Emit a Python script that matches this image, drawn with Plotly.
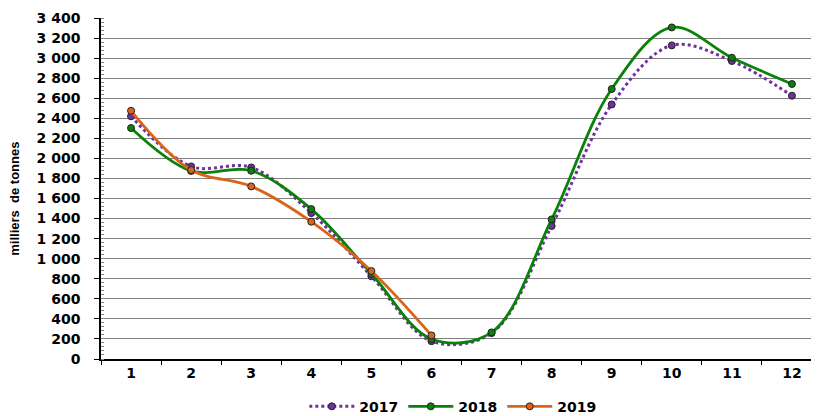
import plotly.graph_objects as go

months = ["1", "2", "3", "4", "5", "6", "7", "8", "9", "10", "11", "12"]
v2017 = [2420, 1920, 1910, 1455, 825, 178, 258, 1326, 2538, 3127, 2971, 2625]
v2018 = [2303, 1875, 1877, 1495, 850, 199, 265, 1392, 2692, 3306, 3004, 2742]
v2019 = [2475, 1884, 1721, 1369, 877, 235]
yticks = list(range(0, 3401, 200))

FONT = "Liberation Sans, Arial, sans-serif"
TFONT = "DejaVu Sans, sans-serif"

fig = go.Figure()
fig.add_trace(go.Scatter(
    x=months, y=v2017, name="2017", mode="lines+markers",
    line=dict(color="#7030A0", width=3, dash="dot", shape="spline", smoothing=1),
    marker=dict(symbol="circle", size=7, color="#7030A0", line=dict(color="#222222", width=1)),
))
fig.add_trace(go.Scatter(
    x=months, y=v2018, name="2018", mode="lines+markers",
    line=dict(color="#0A820A", width=2.8, shape="spline", smoothing=1),
    marker=dict(symbol="circle", size=7, color="#0A820A", line=dict(color="#222222", width=1)),
))
fig.add_trace(go.Scatter(
    x=months[:len(v2019)], y=v2019, name="2019", mode="lines+markers",
    line=dict(color="#D9651C", width=2.8, shape="spline", smoothing=1),
    marker=dict(symbol="circle", size=7, color="#D9651C", line=dict(color="#222222", width=1)),
))

fig.update_layout(
    width=819, height=416,
    margin=dict(l=93, r=8, t=10, b=65, autoexpand=False),
    paper_bgcolor="white", plot_bgcolor="white",
    separators=", ",
    font=dict(family=FONT, size=13, color="black"),
    showlegend=True,
    legend=dict(orientation="h", x=0.49, xanchor="center", y=-0.14, yanchor="middle",
                font=dict(family=TFONT, size=14, color="black", weight="bold"),
                itemwidth=45, tracegroupgap=0),
    annotations=[dict(
        text="milliers  de tonnes", textangle=-90,
        xref="paper", yref="paper", x=(7 - 93) / 718, y=0.47,
        xanchor="center", yanchor="middle", showarrow=False,
        font=dict(family=FONT, size=13, color="black", weight="bold"),
    )],
)
fig.update_xaxes(
    type="category", range=[-0.5, 11.45], automargin=False,
    showgrid=False, showline=True, linecolor="black", linewidth=1.5,
    ticks="outside", tickson="boundaries", ticklen=4, tickcolor="black",
    tickfont=dict(family=TFONT, size=14, color="black", weight="bold"),
    zeroline=False,
)
fig.update_yaxes(
    range=[0, 3400], tickvals=yticks, tickformat=",d", automargin=False,
    showgrid=True, gridcolor="#808080", gridwidth=1,
    showline=True, linecolor="black", linewidth=1.5,
    ticks="outside", ticklen=5, tickcolor="black",
    ticklabelstandoff=11,
    tickfont=dict(family=TFONT, size=14, color="black", weight="bold"),
    minor=dict(dtick=40, ticks="inside", ticklen=3, tickcolor="#888888", showgrid=False),
    zeroline=False,
)

fig.write_html("out.html")
